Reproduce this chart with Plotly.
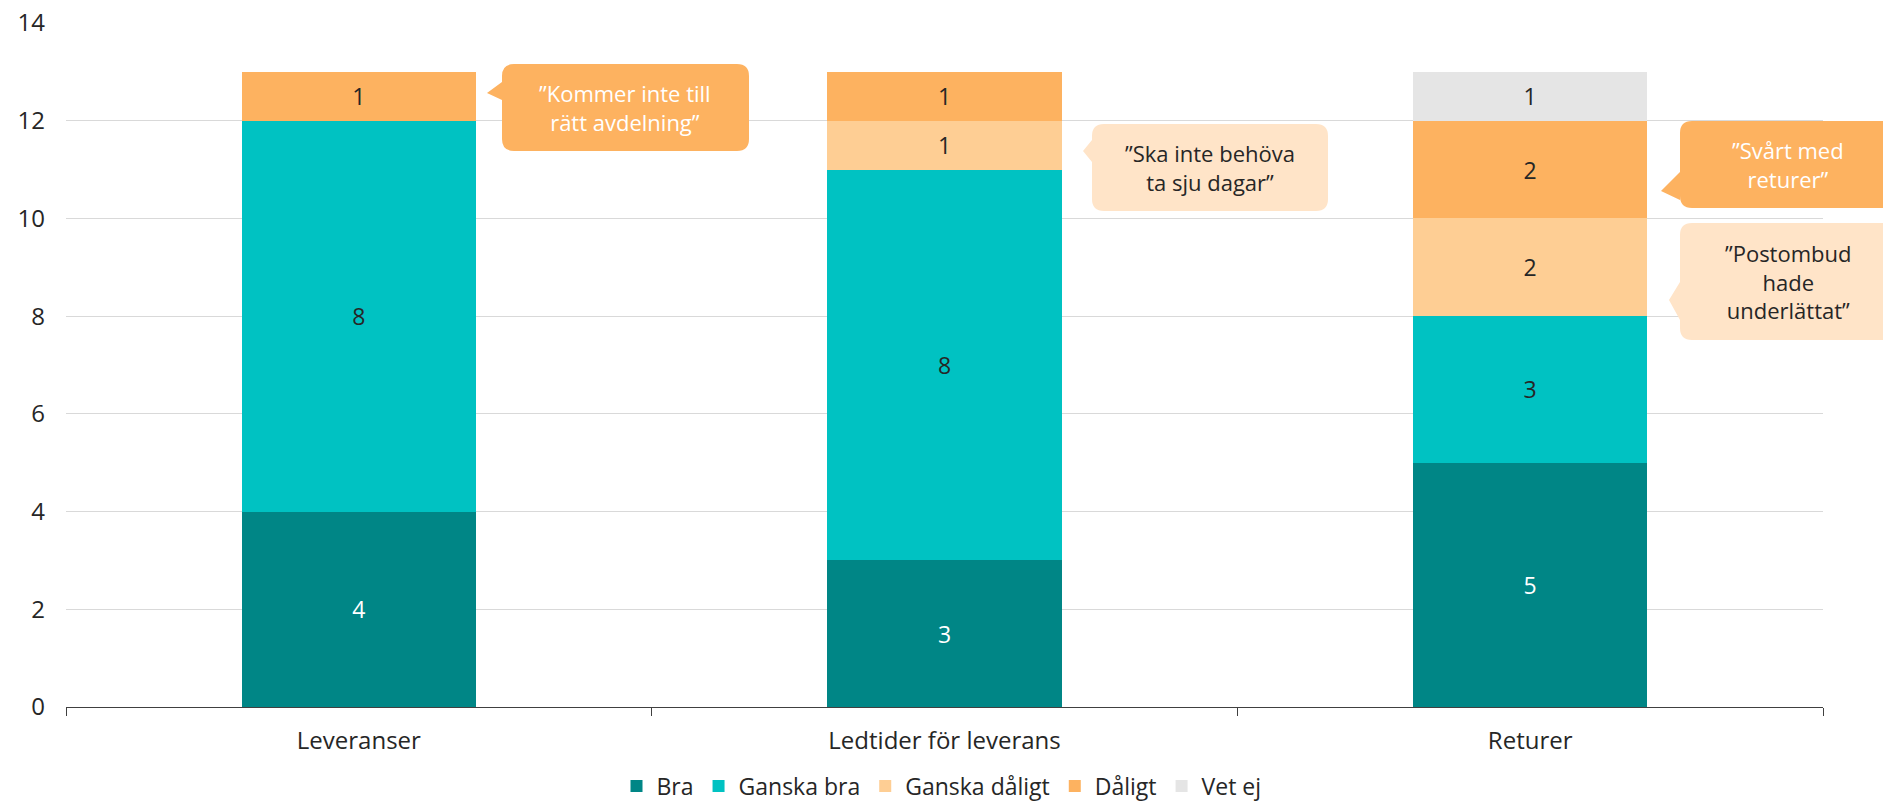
import plotly.graph_objects as go

# Survey answers per area, stacked from best to worst
categories = ["Leveranser", "Ledtider för leverans", "Returer"]
bra = [4, 3, 5]
ganska_bra = [8, 8, 3]
ganska_daligt = [0, 1, 2]
daligt = [1, 1, 2]
vet_ej = [0, 0, 1]

series = [
    ("Bra", bra, "#008686", "white"),
    ("Ganska bra", ganska_bra, "#00C2C2", "#262626"),
    ("Ganska dåligt", ganska_daligt, "#FECE94", "#262626"),
    ("Dåligt", daligt, "#FDB260", "#262626"),
    ("Vet ej", vet_ej, "#E5E5E5", "#262626"),
]

FONT = "Open Sans"
W, H = 1883, 802
L, R, T, B = 66, 1823, 23, 707

fig = go.Figure()
for name, vals, color, tcolor in series:
    fig.add_trace(go.Bar(
        name=name,
        x=categories,
        y=[v if v else None for v in vals],
        text=[str(v) if v else "" for v in vals],
        textposition="inside",
        insidetextanchor="middle",
        textangle=0,
        constraintext="none",
        textfont=dict(family=FONT, size=23, color=tcolor),
        marker=dict(color=color, line=dict(width=0)),
        hoverinfo="skip",
    ))


def px(x):
    return (x - L) / (R - L)


def py(y):
    return (B - y) / (B - T)


def bubble(x0, y0, x1, y1, tip, base, r=12):
    """Rounded box with a pointer on its left edge (pixel coords -> paper)."""
    tx, ty = tip
    b0, b1 = base
    pts = [
        ("M", (x0 + r, y0)),
        ("L", (x1 - r, y0)),
        ("Q", (x1, y0), (x1, y0 + r)),
        ("L", (x1, y1 - r)),
        ("Q", (x1, y1), (x1 - r, y1)),
        ("L", (x0 + r, y1)),
        ("Q", (x0, y1), (x0, y1 - r)),
        ("L", (x0, b1)),
        ("L", (tx, ty)),
        ("L", (x0, b0)),
        ("L", (x0, y0 + r)),
        ("Q", (x0, y0), (x0 + r, y0)),
    ]
    parts = []
    for item in pts:
        cmd = item[0]
        coords = " ".join(f"{px(a):.5f},{py(b):.5f}" for a, b in item[1:])
        parts.append(f"{cmd} {coords}")
    return " ".join(parts) + " Z"


callouts = [
    ("”Kommer inte till<br>rätt avdelning”", (502, 64, 749, 151), (487, 93), (82, 100), "#FDB260", "white", 625),
    ("”Ska inte behöva<br>ta sju dagar”", (1092, 124, 1328, 211), (1083, 151), (140, 162), "#FFE4C8", "#262626", 1210),
    ("”Svårt med<br>returer”", (1680, 121, 1896, 208), (1661, 191), (172, 200), "#FDB260", "white", 1788),
    ("”Postombud<br>hade<br>underlättat”", (1680, 223, 1896, 340), (1669, 300), (282, 320), "#FFE4C8", "#262626", 1788),
]

for text, (x0, y0, x1, y1), tip, base, fill, tcolor, cx in callouts:
    fig.add_shape(type="path", xref="paper", yref="paper",
                  path=bubble(x0, y0, x1, y1, tip, base),
                  fillcolor=fill, line=dict(width=0), layer="above")
    fig.add_annotation(xref="paper", yref="paper", x=px(cx), y=py((y0 + y1) / 2),
                       text=text, showarrow=False, xanchor="center", yanchor="middle",
                       font=dict(family=FONT, size=22, color=tcolor), align="center")

fig.update_layout(
    width=W, height=H,
    margin=dict(l=L, r=W - R, t=T, b=H - B, autoexpand=False),
    barmode="stack",
    bargap=0.6,
    plot_bgcolor="white",
    paper_bgcolor="white",
    font=dict(family=FONT, size=23, color="#262626"),
    showlegend=True,
    legend=dict(orientation="h", x=0.5, xref="container", xanchor="center",
                y=(H - 786) / H, yref="container", yanchor="middle",
                font=dict(family=FONT, size=23, color="#262626"),
                itemwidth=30, traceorder="normal"),
)
fig.update_xaxes(
    showline=True, linecolor="#404040", linewidth=1,
    ticks="outside", tickson="boundaries", ticklen=8, tickcolor="#404040",
    ticklabelstandoff=12,
    tickfont=dict(family=FONT, size=24, color="#262626"),
    showgrid=False,
)
fig.update_yaxes(
    range=[0, 14], dtick=2, showgrid=True, gridcolor="#D9D9D9", gridwidth=1,
    zeroline=False, showline=False, ticks="", ticklabelstandoff=20,
    tickfont=dict(family=FONT, size=24, color="#262626"),
)

fig.write_html("out.html")
